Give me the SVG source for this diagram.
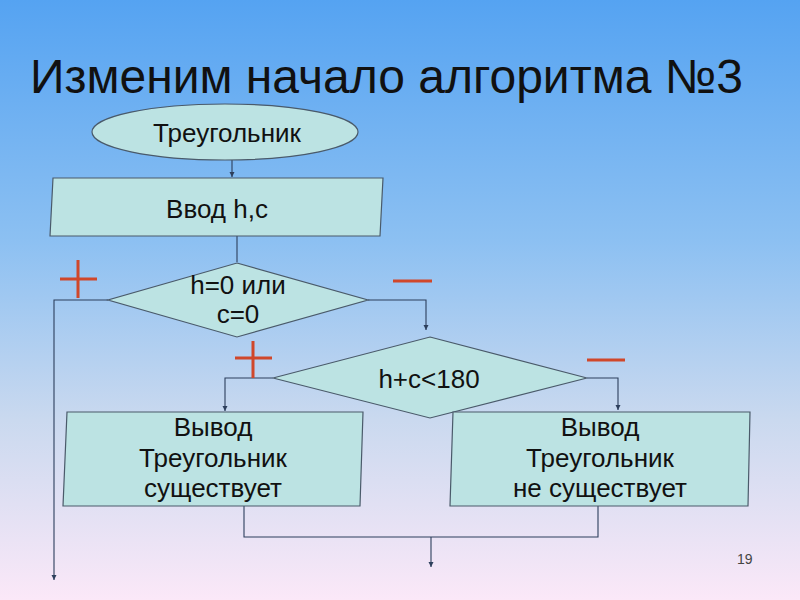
<svg xmlns="http://www.w3.org/2000/svg" width="800" height="600" viewBox="0 0 800 600">
<defs>
<linearGradient id="bg" x1="0" y1="0" x2="0" y2="1">
<stop offset="0" stop-color="#55a3f2"/>
<stop offset="0.4" stop-color="#8cc0f2"/>
<stop offset="0.7" stop-color="#cad9ef"/>
<stop offset="1" stop-color="#fbe8f8"/>
</linearGradient>
<marker id="arr" markerWidth="6" markerHeight="6" refX="5" refY="3" orient="auto" markerUnits="userSpaceOnUse">
<path d="M0,0.5 L5,3 L0,5.5 Z" fill="#2d3f5c"/>
</marker>
<style>
.shape{fill:#bce3e3;stroke:#4a5a6a;stroke-width:1.2}
.t{font-family:"Liberation Sans",Arial,sans-serif;font-size:26px;fill:#111;text-anchor:middle}
.c{fill:none;stroke:#2d3f5c;stroke-width:1.1}
.sign{stroke:#d0472a;stroke-width:3;fill:none}
</style>
</defs>
<rect width="800" height="600" fill="url(#bg)"/>
<text x="30" y="93" font-family="Liberation Sans,Arial,sans-serif" font-size="48" fill="#111">Изменим начало алгоритма №3</text>

<g id="connectors">
<path class="c" d="M232,147 V177" marker-end="url(#arr)"/>
<path class="c" d="M237,236 V262"/>
<path class="c" d="M108,300 H54 V580" marker-end="url(#arr)"/>
<path class="c" d="M368,300 H426 V330" marker-end="url(#arr)"/>
<path class="c" d="M273,378 H225 V411" marker-end="url(#arr)"/>
<path class="c" d="M587,378 H618 V410" marker-end="url(#arr)"/>
<path class="c" d="M244,506 V537 H598 V506"/>
<path class="c" d="M431,537 V567" marker-end="url(#arr)"/>
</g>

<g id="start">
<ellipse class="shape" cx="225" cy="132" rx="133" ry="28"/>
<text class="t" x="227" y="142">Треугольник</text>
</g>
<g id="input">
<polygon class="shape" points="53,178 383,178 380,236 50,236"/>
<text class="t" x="217" y="218">Ввод h,c</text>
</g>
<g id="cond1">
<polygon class="shape" points="237,263 368,300 237,337 108,300"/>
<text class="t" x="238" y="294">h=0 или</text>
<text class="t" x="238" y="323">c=0</text>
</g>
<g id="cond2">
<polygon class="shape" points="430,337 587,378 430,418 273,378"/>
<text class="t" x="429" y="388">h+c&lt;180</text>
</g>
<g id="out-yes">
<polygon class="shape" points="67,412 363,412 360,506 63,506"/>
<text class="t" x="213" y="436">Вывод</text>
<text class="t" x="213" y="467">Треугольник</text>
<text class="t" x="213" y="497">существует</text>
</g>
<g id="out-no">
<polygon class="shape" points="453,412 750,412 748,506 450,506"/>
<text class="t" x="600" y="436">Вывод</text>
<text class="t" x="600" y="467">Треугольник</text>
<text class="t" x="600" y="497">не существует</text>
</g>
<g id="labels">
<path class="sign" d="M60,279 H97 M78,260 V298"/>
<path class="sign" d="M393,281 H432"/>
<path class="sign" d="M235,358 H272 M253,341 V378"/>
<path class="sign" d="M587,360 H625"/>
</g>
<text x="737" y="564" font-family="Liberation Sans,Arial,sans-serif" font-size="14" fill="#444">19</text>
</svg>
